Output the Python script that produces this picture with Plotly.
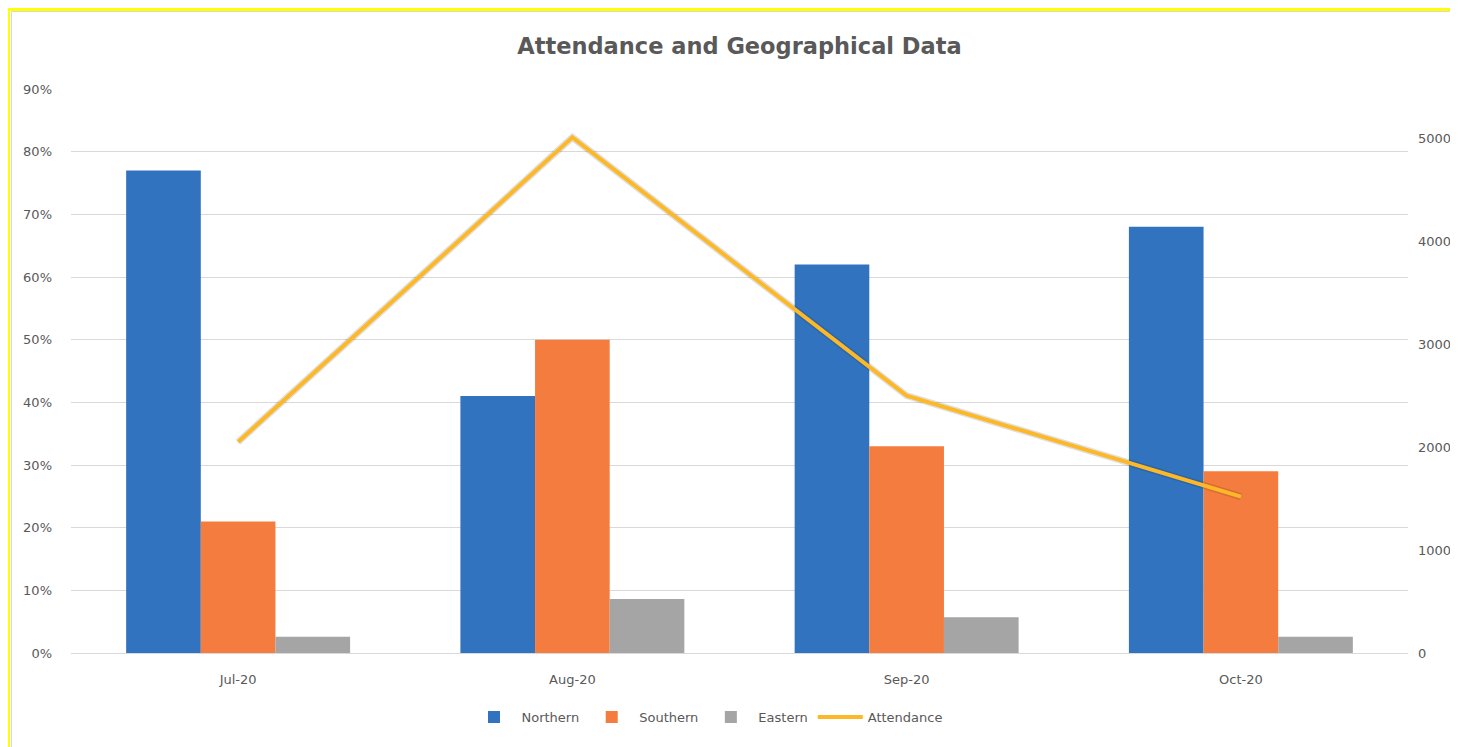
import plotly.graph_objects as go

months = ["Jul-20", "Aug-20", "Sep-20", "Oct-20"]
northern = [0.77, 0.41, 0.62, 0.68]
southern = [0.21, 0.50, 0.33, 0.29]
eastern = [0.026, 0.086, 0.057, 0.026]
attendance = [2050, 5010, 2500, 1520]

left_ticks = [0, 0.1, 0.2, 0.3, 0.4, 0.5, 0.6, 0.7, 0.8, 0.9]
right_ticks = [0, 1000, 2000, 3000, 4000, 5000]

FONT = "DejaVu Sans"
GRAY = "#595959"

fig = go.Figure()
fig.add_trace(go.Bar(name="Northern", x=months, y=northern,
                     marker=dict(color="#3273bf", line=dict(width=0))))
fig.add_trace(go.Bar(name="Southern", x=months, y=southern,
                     marker=dict(color="#f57c3f", line=dict(width=0))))
fig.add_trace(go.Bar(name="Eastern", x=months, y=eastern,
                     marker=dict(color="#a5a5a5", line=dict(width=0))))
# soft shadow under the line
fig.add_trace(go.Scatter(x=months, y=attendance, yaxis="y2", mode="lines",
                         line=dict(color="rgba(0,0,0,0.12)", width=7),
                         showlegend=False, hoverinfo="skip"))
fig.add_trace(go.Scatter(name="Attendance", x=months, y=attendance, yaxis="y2",
                         mode="lines", line=dict(color="#fdb827", width=4)))

# page offset of the plot div (default body margin)
OFF = 8
W, H = 1450, 739
L, R, T, B = 63, 50, 81, 94
pw, ph = W - L - R, H - T - B


def px(x):
    return (x - OFF - L) / pw


def py(y):
    return (H - B - (y - OFF)) / ph


shapes = [
    dict(type="line", xref="paper", yref="paper", x0=px(8.5), x1=px(8.5),
         y0=py(9.5), y1=py(770), line=dict(color="#ffff00", width=3)),
    dict(type="line", xref="paper", yref="paper", x0=px(7), x1=px(1480),
         y0=py(9.5), y1=py(9.5), line=dict(color="#ffff00", width=3)),
    dict(type="line", xref="paper", yref="paper", x0=px(11.5), x1=px(11.5),
         y0=py(11.5), y1=py(770), line=dict(color="#d9d9d9", width=1)),
    dict(type="line", xref="paper", yref="paper", x0=px(11.5), x1=px(1480),
         y0=py(11.5), y1=py(11.5), line=dict(color="#d9d9d9", width=1)),
]

fig.update_layout(
    width=W, height=H,
    margin=dict(l=L, r=R, t=T, b=B, autoexpand=False),
    paper_bgcolor="white", plot_bgcolor="white",
    font=dict(family=FONT, color=GRAY, size=13),
    title=dict(text="<b>Attendance and Geographical Data</b>", x=0.5, xref="paper",
               xanchor="center", y=1 - (46 - OFF) / H, yref="container", yanchor="middle",
               font=dict(family=FONT, size=22.5, color=GRAY)),
    barmode="group", bargap=0.33, bargroupgap=0,
    showlegend=True,
    legend=dict(orientation="h", x=px(707), xanchor="center", y=py(717), yanchor="middle",
                font=dict(family=FONT, size=13, color=GRAY), traceorder="normal",
                itemwidth=45, bgcolor="rgba(0,0,0,0)"),
    xaxis=dict(showgrid=False, showline=False, zeroline=False, ticks="",
               tickfont=dict(size=13, color=GRAY), ticklabelstandoff=17,
               fixedrange=True),
    yaxis=dict(range=[0, 0.9], tickvals=left_ticks, tickformat=".0%",
               showgrid=True, gridcolor="#d9d9d9", gridwidth=1,
               zeroline=True, zerolinecolor="#d9d9d9", zerolinewidth=1,
               showline=False, ticks="", ticklabelstandoff=18,
               tickfont=dict(size=13, color=GRAY)),
    yaxis2=dict(range=[0, 5480], tickvals=right_ticks, overlaying="y", side="right",
                showgrid=False, zeroline=False, showline=False, ticks="",
                ticklabelstandoff=9, tickfont=dict(size=13, color=GRAY)),
    shapes=shapes,
)

fig.write_html("out.html")
